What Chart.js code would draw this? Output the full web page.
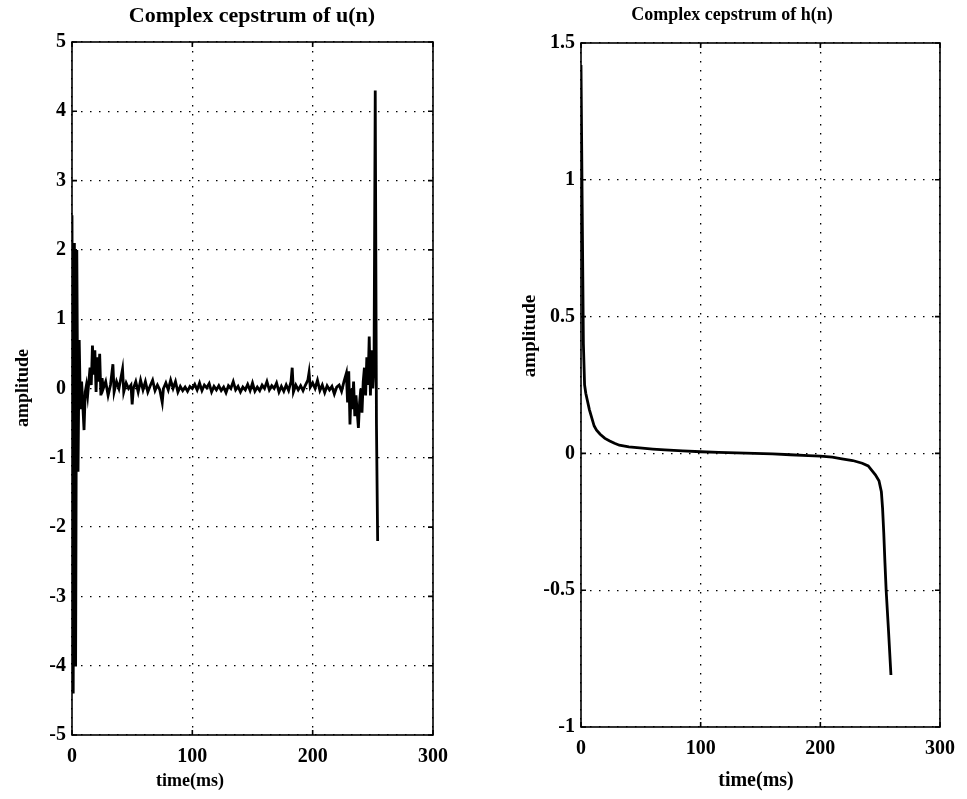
<!DOCTYPE html>
<html>
<head>
<meta charset="utf-8">
<title>Complex cepstrum</title>
<script src="https://cdn.jsdelivr.net/npm/chart.js@4/dist/chart.umd.min.js"></script>
<style>
  html, body { margin: 0; padding: 0; background: #fff; }
  body { width: 967px; height: 799px; position: relative; overflow: hidden; }
  canvas { position: absolute; top: 0; }
  #uChart { left: 0; }
  #hChart { left: 490px; }
</style>
</head>
<body>
<canvas id="uChart" width="470" height="799"></canvas>
<canvas id="hChart" width="477" height="799"></canvas>
<script>
// time axis (ms) and amplitude of the complex cepstrum of u(n)
const uTime = [0, 1, 2, 3, 4, 5, 6, 7, 8, 9, 10, 11, 12, 13, 14, 15, 16, 17, 18, 19, 20, 21, 22, 23, 24, 25, 26, 28, 30, 32, 34, 35, 37, 39, 42, 43, 45, 47, 49, 50, 51, 53, 55, 57, 59, 61, 63, 65, 67, 69, 71, 73, 75, 76, 78, 80, 82, 84, 86, 88, 90, 92, 94, 96, 98, 100, 102, 104, 106, 108, 110, 112, 114, 116, 118, 120, 122, 124, 126, 128, 130, 132, 134, 136, 138, 140, 142, 144, 146, 148, 150, 152, 154, 156, 158, 160, 162, 164, 166, 168, 170, 172, 174, 176, 178, 180, 182, 183, 184, 186, 188, 190, 192, 194, 196, 197, 198, 200, 202, 204, 206, 208, 210, 212, 214, 216, 218, 220, 222, 224, 226, 228, 229, 230, 231, 232, 233, 234, 235, 236, 238, 239, 240, 241, 242, 243, 244, 245, 246, 247, 248, 249, 250, 251, 252, 253, 254];
const uAmp = [2.5, -4.4, 2.1, -4.0, 2.0, -1.2, 0.7, -0.3, 0.1, -0.25, -0.6, -0.05, 0.05, -0.1, 0.1, 0.3, 0.05, 0.62, 0.2, 0.55, -0.05, 0.45, 0.1, 0.5, -0.1, 0.15, 0.0, 0.1, -0.1, 0.05, 0.35, -0.05, 0.1, 0.0, 0.28, -0.05, 0.08, 0.0, 0.05, -0.23, 0.0, 0.1, -0.05, 0.12, -0.02, 0.1, -0.05, 0.04, 0.12, -0.03, 0.05, -0.02, -0.2, 0.0, 0.08, -0.02, 0.12, 0.0, 0.1, -0.05, 0.03, -0.03, 0.02, -0.04, 0.03, 0.0, 0.06, -0.02, 0.08, -0.03, 0.05, 0.01, 0.07, -0.05, 0.03, -0.02, 0.04, -0.03, 0.02, -0.06, 0.04, 0.0, 0.1, -0.02, 0.03, -0.05, 0.02, -0.02, 0.06, -0.03, 0.08, -0.04, 0.02, -0.03, 0.05, 0.0, 0.1, -0.02, 0.04, 0.0, 0.08, -0.05, 0.03, -0.04, 0.05, -0.03, 0.1, 0.3, -0.05, 0.05, -0.02, 0.04, -0.03, 0.05, 0.12, 0.23, 0.02, 0.08, 0.0, 0.12, -0.03, 0.05, -0.06, 0.04, -0.02, 0.03, -0.08, 0.02, 0.05, -0.04, 0.1, 0.22, -0.2, 0.25, -0.52, 0.0, -0.3, 0.1, -0.4, -0.1, -0.57, -0.2, 0.0, -0.35, 0.1, 0.3, -0.1, 0.45, 0.05, 0.75, -0.1, 0.55, 0.0, 0.3, 4.3, -0.5, -2.2];

// time axis (ms) and amplitude of the complex cepstrum of h(n)
const hTime = [0, 1, 2, 3, 4, 5, 7, 9, 11, 13, 16, 20, 24, 28, 32, 40, 49, 60, 70, 85, 100, 115, 130, 145, 160, 175, 190, 200, 210, 218, 227, 235, 240, 243, 246, 249, 251, 252, 253, 254, 255, 257, 259];
const hAmp = [1.42, 0.9, 0.4, 0.25, 0.22, 0.2, 0.16, 0.13, 0.1, 0.085, 0.07, 0.055, 0.045, 0.037, 0.03, 0.024, 0.02, 0.016, 0.013, 0.009, 0.006, 0.004, 0.002, 0.0, -0.002, -0.005, -0.008, -0.01, -0.014, -0.02, -0.026, -0.036, -0.046, -0.062, -0.078, -0.1, -0.14, -0.2, -0.29, -0.4, -0.5, -0.65, -0.81];

// tick labels
const timeTicks = [0, 100, 200, 300];
const uAmpTicks = [-5, -4, -3, -2, -1, 0, 1, 2, 3, 4, 5];
const hAmpTicks = [-1, -0.5, 0, 0.5, 1, 1.5];

const serif = '"Liberation Serif", "Times New Roman", serif';

// box round the plot area, inward tick marks, and the three text labels
const framePlugin = {
  id: 'frame',
  afterDraw(chart, args, opts) {
    const { ctx, chartArea: a, scales: { x, y } } = chart;
    ctx.save();
    ctx.strokeStyle = '#000';
    ctx.lineWidth = 1.6;
    ctx.strokeRect(a.left, a.top, a.right - a.left, a.bottom - a.top);
    const t = 5;
    ctx.beginPath();
    x.ticks.forEach(tk => {
      const px = x.getPixelForValue(tk.value);
      ctx.moveTo(px, a.bottom); ctx.lineTo(px, a.bottom - t);
      ctx.moveTo(px, a.top); ctx.lineTo(px, a.top + t);
    });
    y.ticks.forEach(tk => {
      const py = y.getPixelForValue(tk.value);
      ctx.moveTo(a.left, py); ctx.lineTo(a.left + t, py);
      ctx.moveTo(a.right, py); ctx.lineTo(a.right - t, py);
    });
    ctx.stroke();

    ctx.fillStyle = '#000';
    ctx.textAlign = 'center';
    ctx.textBaseline = 'middle';
    ctx.font = 'bold ' + opts.titleSize + 'px ' + serif;
    ctx.fillText(opts.title, opts.titleX, opts.titleY);
    ctx.font = 'bold ' + opts.xTitleSize + 'px ' + serif;
    ctx.fillText(opts.xTitle, opts.xTitleX, opts.xTitleY);
    ctx.font = 'bold ' + opts.yTitleSize + 'px ' + serif;
    ctx.translate(opts.yTitleX, opts.yTitleY);
    ctx.rotate(-Math.PI / 2);
    ctx.fillText(opts.yTitle, 0, 0);
    ctx.restore();
  }
};

function makeChart(id, xs, ys, yTicks, yMin, yMax, box, labels) {
  const points = xs.map((t, i) => ({ x: t, y: ys[i] }));
  return new Chart(document.getElementById(id), {
    type: 'scatter',
    data: {
      datasets: [{
        data: points,
        showLine: true,
        borderColor: '#000',
        borderWidth: 2.8,
        pointRadius: 0,
        tension: 0
      }]
    },
    plugins: [framePlugin],
    options: {
      responsive: false,
      animation: false,
      layout: { padding: { left: 0, right: box.right, top: box.top, bottom: 0 } },
      scales: {
        x: {
          type: 'linear',
          min: 0,
          max: 300,
          afterBuildTicks: s => { s.ticks = timeTicks.map(v => ({ value: v })); },
          afterFit: s => { s.height = box.xHeight; },
          grid: { color: '#000', lineWidth: 1.3, drawTicks: false },
          border: { display: false, dash: [1.5, 7.5] },
          ticks: { color: '#000', padding: 10, maxRotation: 0, callback: v => String(v),
                   font: { family: serif, size: 20, weight: 'bold' } }
        },
        y: {
          type: 'linear',
          min: yMin,
          max: yMax,
          afterBuildTicks: s => { s.ticks = yTicks.map(v => ({ value: v })); },
          afterFit: s => { s.width = box.yWidth; },
          grid: { color: '#000', lineWidth: 1.3, drawTicks: false },
          border: { display: false, dash: [1.5, 7.5] },
          ticks: { color: '#000', padding: 6, callback: v => String(v),
                   font: { family: serif, size: 20, weight: 'bold' } }
        }
      },
      plugins: {
        legend: { display: false },
        tooltip: { enabled: false },
        frame: labels
      }
    }
  });
}

makeChart('uChart', uTime, uAmp, uAmpTicks, -5, 5,
  { right: 37, top: 42, xHeight: 64, yWidth: 72 },
  { title: 'Complex cepstrum of u(n)', titleX: 252, titleY: 16, titleSize: 22,
    xTitle: 'time(ms)', xTitleX: 190, xTitleY: 781, xTitleSize: 18,
    yTitle: 'amplitude', yTitleX: 23, yTitleY: 388, yTitleSize: 18 });

makeChart('hChart', hTime, hAmp, hAmpTicks, -1, 1.5,
  { right: 27, top: 43, xHeight: 72, yWidth: 91 },
  { title: 'Complex cepstrum of h(n)', titleX: 242, titleY: 15, titleSize: 18,
    xTitle: 'time(ms)', xTitleX: 266, xTitleY: 781, xTitleSize: 20,
    yTitle: 'amplitude', yTitleX: 40, yTitleY: 336, yTitleSize: 19 });
</script>
</body>
</html>
